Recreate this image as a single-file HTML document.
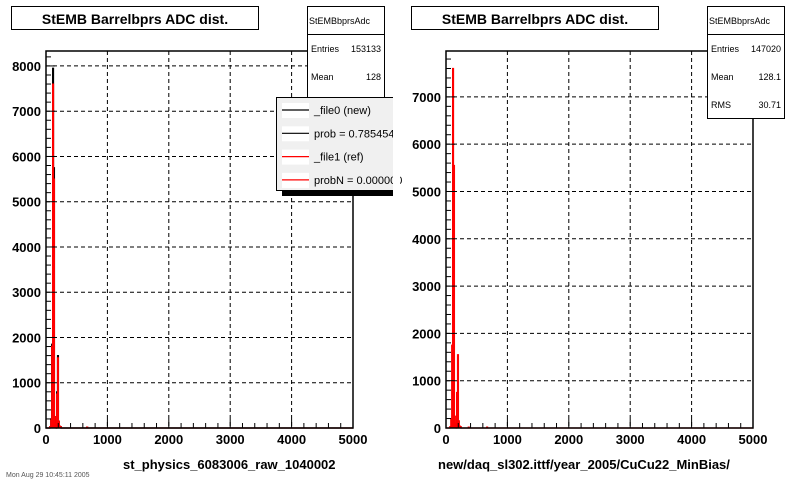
<!DOCTYPE html>
<html><head><meta charset="utf-8"><style>
html,body{margin:0;padding:0;background:#fff;width:800px;height:480px;overflow:hidden}
svg{display:block;font-family:"Liberation Sans",Arial,sans-serif}
</style></head><body>
<svg id="c" width="800" height="480" viewBox="0 0 800 480"></svg>
<script>
// ADC bin centers
const binsL = [70,85,100,115,130,145,160,180,195,210,225,240,670];
const newL  = [30,200,1850,7950,5750,250,100,800,1600,150,40,30,20];
const refL  = [30,200,1800,7600,5500,250,100,750,1550,150,40,30,20];
const binsR = [70,85,100,115,130,145,160,180,195,210,225,240,370,670];
const refR  = [30,200,1750,7600,5550,250,100,750,1550,150,40,30,20,20];
const xTicks = [0,1000,2000,3000,4000,5000];
const yTicksL = [0,1000,2000,3000,4000,5000,6000,7000,8000];
const yTicksR = [0,1000,2000,3000,4000,5000,6000,7000];
const binW = 15;

const NS="http://www.w3.org/2000/svg";
const svg=document.getElementById('c');
function mk(tag,attrs,parent,text){const e=document.createElementNS(NS,tag);for(const k in attrs)e.setAttribute(k,attrs[k]);if(text!==undefined)e.textContent=text;(parent||svg).appendChild(e);return e;}

function panel(ox,ymax,yTicks,series,xlabel,xlabelX,name){
  const L=ox+46,R=ox+353,T=51,B=428;
  const g=mk('g',{});
  
  
  const xs=v=>L+(v/5000)*(R-L);
  const ys=v=>B-(v/ymax)*(B-T);
  // grid
  xTicks.forEach(t=>{if(t>0&&t<5000){const l=mk('line',{x1:xs(t),x2:xs(t),y1:T,y2:B,stroke:'#000','stroke-dasharray':'4,3','stroke-width':1},g);}});
  yTicks.forEach(t=>{if(t>0){const l=mk('line',{x1:L,x2:R,y1:ys(t),y2:ys(t),stroke:'#000','stroke-dasharray':'4,3','stroke-width':1},g);}});
  // series
  series.forEach(s=>{
    let d='M'+L+','+B;
    s.bins.forEach((b,i)=>{const x0=xs(b-binW/2),x1=xs(b+binW/2),y=ys(s.vals[i]);d+=' L'+x0+','+B+' L'+x0+','+y+' L'+x1+','+y+' L'+x1+','+B;});
    d+=' L'+R+','+B;
    const p=mk('path',{d:d,fill:'none',stroke:s.color,'stroke-width':1.2},g);
    
    
  });
  // frame
  const f=mk('rect',{x:L,y:T,width:R-L,height:B-T,fill:'none',stroke:'#000','stroke-width':1.5},g);
  
  
  // x ticks
  for(let v=0;v<=5000;v+=200){const major=v%1000===0;mk('line',{x1:xs(v),x2:xs(v),y1:B,y2:B-(major?9:5),stroke:'#000'},g);}
  xTicks.forEach(t=>{const e=mk('text',{x:xs(t),y:B+16,'text-anchor':'middle','font-size':13,'font-weight':'bold'},g,String(t));});
  // y ticks
  for(let v=0;v<=ymax;v+=200){const major=v%1000===0;mk('line',{x1:L,x2:L+(major?9:5),y1:ys(v),y2:ys(v),stroke:'#000'},g);}
  yTicks.forEach(t=>{const e=mk('text',{x:L-5,y:ys(t)+5,'text-anchor':'end','font-size':13,'font-weight':'bold'},g,String(t));});
  const xl=mk('text',{x:xlabelX,y:469,'font-size':13,'font-weight':'bold'},g,xlabel);
  
  
  // title box
  const tb=mk('rect',{x:ox+11.5,y:6.5,width:247,height:23,fill:'#fff',stroke:'#000'},g);
  
  
  const tt=mk('text',{x:ox+135,y:24,'text-anchor':'middle','font-size':14,'font-weight':'bold'},g,'StEMB Barrelbprs ADC dist.');
  
  
}

panel(0,8330,yTicksL,[
  {bins:binsL,vals:newL,color:'#000',name:'new-histogram'},
  {bins:binsL,vals:refL,color:'#f00',name:'ref-histogram'}],
  'st_physics_6083006_raw_1040002',123,'left-panel');
panel(400,7970,yTicksR,[
  {bins:binsR,vals:refR,color:'#f00',name:'ref-histogram'}],
  'new/daq_sl302.ittf/year_2005/CuCu22_MinBias/',438,'right-panel');

function stats(x,lines,h,name){
  const g=mk('g',{});
  
  
  mk('rect',{x:x+0.5,y:6.5,width:77,height:h,fill:'#fff',stroke:'#000'},g);
  mk('line',{x1:x,x2:x+78,y1:34.5,y2:34.5,stroke:'#000'},g);
  mk('text',{x:x+2,y:24,'font-size':9},g,'StEMBbprsAdc');
  lines.forEach((l,i)=>{const y=52+i*28;mk('text',{x:x+4,y:y,'font-size':9},g,l[0]);mk('text',{x:x+74,y:y,'font-size':9,'text-anchor':'end'},g,l[1]);});
}
stats(307,[['Entries','153133'],['Mean','128'],['RMS','30.7']],112,'stats-box-left');
stats(707,[['Entries','147020'],['Mean','128.1'],['RMS','30.71']],112,'stats-box-right');

// legend
const lg=mk('g',{});


mk('rect',{x:282,y:190,width:112,height:6,fill:'#000'},lg);
mk('rect',{x:276.5,y:97.5,width:120,height:93,fill:'#f0f0f0',stroke:'#000'},lg);
const leg=[['_file0 (new)','#000'],['prob = 0.785454','#000'],['_file1 (ref)','#f00'],['probN = 0.000000','#f00']];
leg.forEach((e,i)=>{
  const y=110+i*23.3;
  const it=mk('g',{},lg);
  
  
  mk('rect',{x:282,y:y-7,width:27,height:15,fill:'#fff'},it);
  mk('line',{x1:282,x2:309,y1:y,y2:y,stroke:e[1],'stroke-width':1.2},it);
  mk('text',{x:314,y:y+4,'font-size':11},it,e[0]);
});
// clip right edge of left pad
mk('rect',{x:393,y:90,width:7,height:110,fill:'#fff'});

const ft=mk('text',{x:6,y:477,'font-size':7,fill:'#555'},svg,'Mon Aug 29 10:45:11 2005');


</script>
</body></html>
